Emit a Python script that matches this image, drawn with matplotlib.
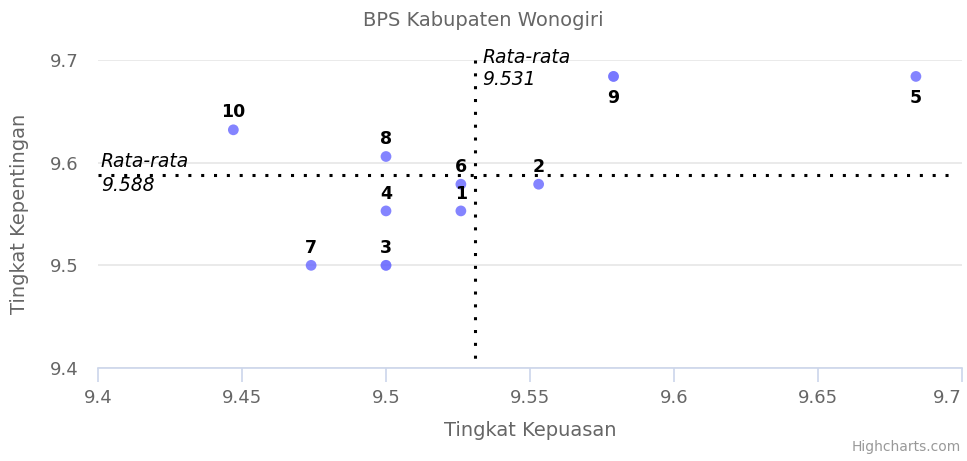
import matplotlib
matplotlib.use("Agg")
import matplotlib.pyplot as plt

labels = ["1", "2", "3", "4", "5", "6", "7", "8", "9", "10"]
kepuasan = [9.526, 9.553, 9.500, 9.500, 9.684, 9.526, 9.474, 9.500, 9.579, 9.447]
kepentingan = [9.553, 9.579, 9.500, 9.553, 9.684, 9.579, 9.500, 9.606, 9.684, 9.632]
# duplicated points (overlapping markers)
dup_x = [9.500, 9.579]
dup_y = [9.500, 9.684]
label_below = ["5", "9"]
mean_x = 9.531
mean_y = 9.588
xticks = [9.4, 9.45, 9.5, 9.55, 9.6, 9.65, 9.7]
yticks = [9.4, 9.5, 9.6, 9.7]

plt.rcParams['font.family'] = ['DejaVu Sans']
fig = plt.figure(figsize=(9.67, 4.61), dpi=100)
ax = fig.add_axes([98/967, 1-368/461, (962-98)/967, (368-60)/461])

ax.set_xlim(9.4, 9.7)
ax.set_ylim(9.4, 9.7)
ax.set_xticks(xticks)
ax.set_xticklabels([f"{t:g}" for t in xticks])
ax.set_yticks(yticks)
ax.set_yticklabels([f"{t:g}" for t in yticks])

ax.grid(axis='y', color='#e6e6e6', linewidth=1.2)
ax.set_axisbelow(True)
for s in ['top', 'right', 'left']:
    ax.spines[s].set_visible(False)
ax.spines['bottom'].set_color('#ccd6eb')
ax.spines['bottom'].set_linewidth(1.2)
ax.tick_params(axis='x', colors='#ccd6eb', length=10, width=1.2, labelcolor='#666666', labelsize=13, pad=5)
ax.tick_params(axis='y', length=0, labelcolor='#666666', labelsize=13, pad=14)
xt = ax.get_xticklabels()
xt[-1].set_horizontalalignment('right')
xt[-1].set_x(9.7)

# mean lines (drawn from top / left so the dot pattern starts at the plot edge)
ymin, ymax = ax.get_ylim()
xmin, xmax = ax.get_xlim()
ax.plot([mean_x, mean_x], [ymax, ymin], color='black', linestyle=(0, (1, 3.2)),
        linewidth=2.2, zorder=2, clip_on=False)
ax.plot([xmin, xmin + 0.988 * (xmax - xmin)], [mean_y, mean_y], color='black',
        linestyle=(0, (1, 3.2)), linewidth=2.2, zorder=2)

ax.scatter(kepuasan, kepentingan, s=60, color='#6666ff', alpha=0.8, edgecolors='none', zorder=3)
ax.scatter(dup_x, dup_y, s=60, color='#6666ff', alpha=0.4, edgecolors='none', zorder=3)

for lab, x, y in zip(labels, kepuasan, kepentingan):
    if lab in label_below:
        ax.annotate(lab, (x, y), xytext=(0, -9), textcoords='offset points',
                    ha='center', va='top', fontsize=12.5, fontweight='bold', color='black', zorder=4)
    else:
        ax.annotate(lab, (x, y), xytext=(0, 6), textcoords='offset points',
                    ha='center', va='bottom', fontsize=12.5, fontweight='bold', color='black', zorder=4)

ax.annotate(f"Rata-rata\n{mean_x:.3f}", (mean_x, ymax), xytext=(5, 9), textcoords='offset points',
            ha='left', va='top', fontsize=13.5, style='italic', color='black', linespacing=1.2)
ax.annotate("Rata-rata", (xmin, mean_y), xytext=(2, 3), textcoords='offset points',
            ha='left', va='bottom', fontsize=13.5, style='italic', color='black')
ax.annotate(f"{mean_y:.3f}", (xmin, mean_y), xytext=(2, -1), textcoords='offset points',
            ha='left', va='top', fontsize=13.5, style='italic', color='black')

ax.set_xlabel("Tingkat Kepuasan", fontsize=14, color='#666666', labelpad=10)
ax.set_ylabel("Tingkat Kepentingan", fontsize=14, color='#666666', labelpad=15)
fig.text(0.5, 1-20/461, "BPS Kabupaten Wonogiri", ha='center', va='center', fontsize=14, color='#666666')
fig.text(1-6/967, 1-454/461, "Highcharts.com", ha='right', va='bottom', fontsize=10, color='#999999')

fig.savefig("out.png", dpi=100)
